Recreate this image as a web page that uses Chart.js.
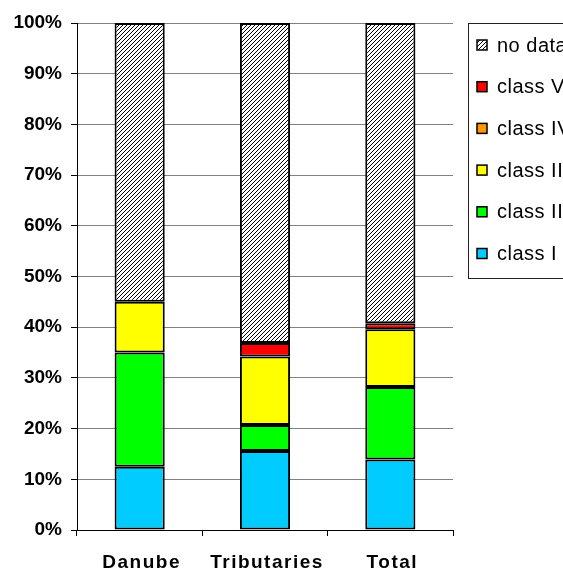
<!DOCTYPE html>
<html>
<head>
<meta charset="utf-8">
<title>Water quality classes</title>
<script src="https://cdn.jsdelivr.net/npm/chart.js@4/dist/chart.umd.min.js"></script>
<style>
  body { margin: 0; background: #fff; overflow: hidden; }
  canvas { display: block; }
</style>
</head>
<body>
<canvas id="classes-chart" width="563" height="572"></canvas>
<script>
const categories = ['Danube', 'Tributaries', 'Total'];
const classI = [12.5, 15.6, 13.9];
const classII = [22.5, 5.1, 14.3];
const classIII = [10.0, 13.5, 11.4];
const classIV = [0, 0, 0];
const classV = [0, 2.7, 1.2];
const noData = [55.0, 63.1, 59.2];
const yTicks = [0, 10, 20, 30, 40, 50, 60, 70, 80, 90, 100];

const FONT = "'Liberation Sans', Arial, sans-serif";

// diagonal hatch used for the "no data" part of each bar
function hatchPattern(ctx) {
    const c = document.createElement('canvas');
    c.width = 4;
    c.height = 4;
    const p = c.getContext('2d');
    p.fillStyle = '#fff';
    p.fillRect(0, 0, 4, 4);
    p.fillStyle = '#000';
    for (let i = 0; i < 4; i++) p.fillRect(i, 3 - i, 1, 1);
    return ctx.createPattern(c, 'repeat');
}

const ctx = document.getElementById('classes-chart').getContext('2d');
const hatch = hatchPattern(ctx);

const barStyle = { borderColor: '#000', borderWidth: 2, borderSkipped: false, barPercentage: 0.4, categoryPercentage: 1 };

// category names under the bars, a bit letter-spaced
const categoryLabels = {
    id: 'categoryLabels',
    afterDraw(chart) {
        const c = chart.ctx;
        const x = chart.scales.x;
        c.save();
        c.font = 'bold 19px ' + FONT;
        c.letterSpacing = '1.5px';
        c.fillStyle = '#000';
        c.textAlign = 'center';
        c.textBaseline = 'alphabetic';
        categories.forEach((name, i) => {
            c.fillText(name, x.getPixelForValue(i) + 2, 568);
        });
        c.restore();
    }
};

// legend box on the right, partly running off the canvas edge
const boxLegend = {
    id: 'boxLegend',
    afterDraw(chart) {
        const c = chart.ctx;
        c.save();
        c.strokeStyle = '#222';
        c.lineWidth = 1;
        c.strokeRect(468.5, 23.5, 200, 255);
        const sets = chart.data.datasets.slice().reverse();
        c.font = '20px ' + FONT;
        c.letterSpacing = '0.5px';
        c.textBaseline = 'middle';
        sets.forEach((ds, i) => {
            const y = 45 + i * 41.7;
            c.fillStyle = ds.backgroundColor;
            c.fillRect(477, y - 5, 10, 10);
            c.strokeStyle = '#000';
            c.lineWidth = 1.5;
            c.strokeRect(477, y - 5, 10, 10);
            c.fillStyle = '#000';
            c.fillText(ds.label, 497, y + 1);
        });
        c.restore();
    }
};

new Chart(ctx, {
    type: 'bar',
    data: {
        labels: categories,
        datasets: [
            { label: 'class I', data: classI, backgroundColor: '#00CCFF', ...barStyle },
            { label: 'class II', data: classII, backgroundColor: '#00FF00', ...barStyle },
            { label: 'class III', data: classIII, backgroundColor: '#FFFF00', ...barStyle },
            { label: 'class IV', data: classIV, backgroundColor: '#FF9900', ...barStyle },
            { label: 'class V', data: classV, backgroundColor: '#FF0000', ...barStyle },
            { label: 'no data', data: noData, backgroundColor: hatch, ...barStyle }
        ]
    },
    options: {
        responsive: false,
        animation: false,
        layout: { padding: { top: 23, right: 110, left: 0, bottom: 0 } },
        scales: {
            x: {
                stacked: true,
                grid: { drawOnChartArea: false, drawTicks: true, tickLength: 6, color: '#000', offset: true },
                border: { color: '#000', width: 1 },
                ticks: { display: false },
                afterFit(scale) { scale.height = 42; }
            },
            y: {
                stacked: true,
                min: 0,
                max: 100,
                afterBuildTicks(scale) { scale.ticks = yTicks.map(v => ({ value: v })); },
                grid: { color: '#808080', tickLength: 6, tickColor: '#000' },
                border: { color: '#000', width: 1 },
                ticks: {
                    color: '#000',
                    padding: 9,
                    font: { family: FONT, size: 19, weight: 'bold' },
                    callback: v => v + '%'
                },
                afterFit(scale) { scale.width = 77; }
            }
        },
        plugins: {
            legend: { display: false },
            tooltip: { enabled: false }
        }
    },
    plugins: [categoryLabels, boxLegend]
});
</script>
</body>
</html>
